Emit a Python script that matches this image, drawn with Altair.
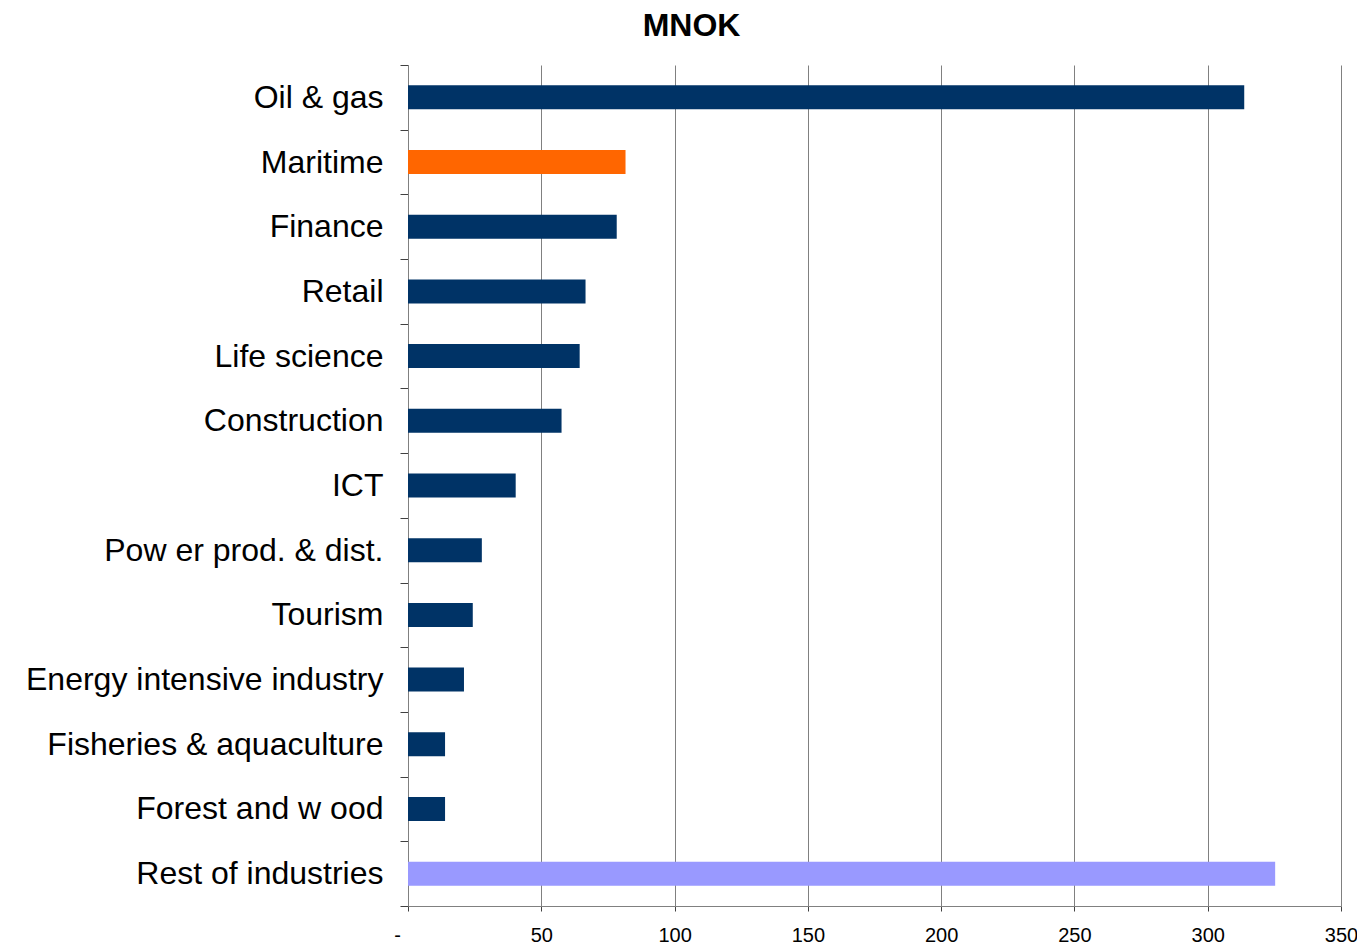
import altair as alt
import pandas as pd

categories = ["Oil & gas", "Maritime", "Finance", "Retail", "Life science", "Construction",
              "ICT", "Pow er prod. & dist.", "Tourism", "Energy intensive industry",
              "Fisheries & aquaculture", "Forest and w ood", "Rest of industries"]
values = [313.7, 81.6, 78.3, 66.6, 64.4, 57.6, 40.4, 27.7, 24.3, 21.0, 13.9, 13.9, 325.3]
groups = ["Industry", "Maritime", "Industry", "Industry", "Industry", "Industry", "Industry",
          "Industry", "Industry", "Industry", "Industry", "Industry", "Rest"]
x_ticks = [0, 50, 100, 150, 200, 250, 300, 350]

df = pd.DataFrame({"category": categories, "value": values, "group": groups})

chart = alt.Chart(df).mark_bar(size=24).encode(
    y=alt.Y("category:N", sort=categories, title=None,
            scale=alt.Scale(paddingInner=0, paddingOuter=0),
            axis=alt.Axis(tickBand="extent", labelFontSize=32, labelFont="Liberation Sans",
                          labelColor="black", labelPadding=17, tickSize=8, tickColor="#404040",
                          domainColor="#808080", labelLimit=500, grid=False)),
    x=alt.X("value:Q", title=None,
            scale=alt.Scale(domain=[0, 350], nice=False),
            axis=alt.Axis(values=x_ticks, labelFontSize=20, labelFont="Liberation Sans",
                          labelColor="black", labelPadding=14, tickSize=5, tickColor="#404040",
                          domainColor="#808080", grid=True, gridColor="#808080",
                          gridOpacity=1, labelFlush=False,
                          labelOffset={"condition": {"test": "datum.value == 0", "value": -11},
                                       "value": 0},
                          labelExpr="datum.value == 0 ? '-' : datum.label")),
    color=alt.Color("group:N", legend=None,
                    scale=alt.Scale(domain=["Industry", "Maritime", "Rest"],
                                    range=["#003366", "#FF6600", "#9999FF"])),
).properties(
    width=933, height=841,
    title=alt.TitleParams(text="MNOK", fontSize=32, font="Liberation Sans", fontWeight="bold",
                          anchor="middle", dx=-183, offset=6, color="black"),
    padding={"left": 400, "top": 57, "right": 16, "bottom": 40},
    autosize=alt.AutoSizeParams(type="none"),
).configure_view(stroke=None)

chart.save("out.html", embed_options={"renderer": "svg", "actions": False})
